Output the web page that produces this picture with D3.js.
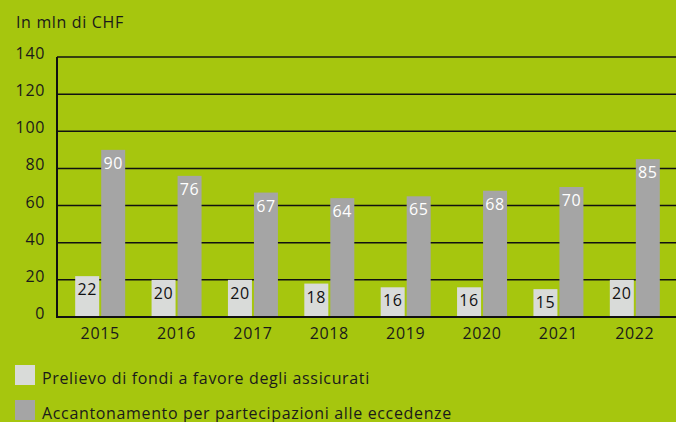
<!DOCTYPE html>
<html lang="it">
<head>
    <meta charset="UTF-8">
    <title>Prelievo e accantonamento</title>
    <script src="https://d3js.org/d3.v7.min.js"></script>
    <style>
        body { margin: 0; background: #a6c60e; }
        svg { display: block; font-family: "Open Sans", "Noto Sans", sans-serif; }
        svg text { font-size: 16px; letter-spacing: 0.65px; }
    </style>
</head>
<body>
    <div id="chart"></div>
    <script>
        // data
        var years = ["2015", "2016", "2017", "2018", "2019", "2020", "2021", "2022"];
        var prelievo = [22, 20, 20, 18, 16, 16, 15, 20];
        var accantonamento = [90, 76, 67, 64, 65, 68, 70, 85];
        var yTicks = [0, 20, 40, 60, 80, 100, 120, 140];
        var seriesNames = ["Prelievo di fondi a favore degli assicurati",
                           "Accantonamento per partecipazioni alle eccedenze"];

        var width = 676, height = 422;
        var lightCol = "#d9dbd9", darkCol = "#a5a5a5";

        var svg = d3.select("#chart").append("svg")
            .attr("width", width)
            .attr("height", height);

        var x = d3.scaleBand().domain(years).range([62, 673]);
        var y = d3.scaleLinear().domain([0, 140]).range([317, 57]);

        svg.append("text")
            .attr("x", 16).attr("y", 28)
            .attr("fill", "#1a1a1a")
            .text("In mln di CHF");

        // gridlines
        svg.selectAll(".grid")
            .data(yTicks.filter(d => d > 0))
            .enter().append("line")
            .attr("x1", 57).attr("x2", width)
            .attr("y1", d => y(d)).attr("y2", d => y(d))
            .attr("stroke", "#111").attr("stroke-width", 1.5);

        // y labels
        svg.selectAll(".ylab")
            .data(yTicks)
            .enter().append("text")
            .attr("x", 45).attr("y", d => y(d) + 2)
            .attr("text-anchor", "end")
            .attr("fill", "#1a1a1a")
            .text(d => d);

        var bw = 24, gap = 2;

        var groups = svg.selectAll(".year")
            .data(years)
            .enter().append("g")
            .attr("transform", d => "translate(" + (x(d) + x.bandwidth() / 2) + ",0)");

        groups.append("rect")
            .attr("x", -bw - gap / 2)
            .attr("width", bw)
            .attr("y", (d, i) => y(prelievo[i]))
            .attr("height", (d, i) => y(0) - y(prelievo[i]))
            .attr("fill", lightCol);

        groups.append("rect")
            .attr("x", gap / 2)
            .attr("width", bw)
            .attr("y", (d, i) => y(accantonamento[i]))
            .attr("height", (d, i) => y(0) - y(accantonamento[i]))
            .attr("fill", darkCol);

        groups.append("text")
            .attr("x", -bw / 2 - gap / 2)
            .attr("y", (d, i) => y(prelievo[i]) + 19)
            .attr("text-anchor", "middle")
            .attr("fill", "#111")
            .text((d, i) => prelievo[i]);

        groups.append("text")
            .attr("x", bw / 2 + gap / 2)
            .attr("y", (d, i) => y(accantonamento[i]) + 19)
            .attr("text-anchor", "middle")
            .attr("fill", "#fff")
            .text((d, i) => accantonamento[i]);

        groups.append("text")
            .attr("x", 0)
            .attr("y", 339)
            .attr("text-anchor", "middle")
            .attr("fill", "#1a1a1a")
            .text(d => d);

        // axes lines
        svg.append("line")
            .attr("x1", 57).attr("x2", 57).attr("y1", y(140)).attr("y2", y(0) + 1)
            .attr("stroke", "#111").attr("stroke-width", 2);
        svg.append("line")
            .attr("x1", 56).attr("x2", width).attr("y1", y(0)).attr("y2", y(0))
            .attr("stroke", "#111").attr("stroke-width", 2);

        // legend
        var legend = svg.selectAll(".leg")
            .data(seriesNames)
            .enter().append("g")
            .attr("transform", (d, i) => "translate(15," + (365 + i * 35) + ")");
        legend.append("rect")
            .attr("width", 20).attr("height", 20)
            .attr("fill", (d, i) => i === 0 ? lightCol : darkCol);
        legend.append("text")
            .attr("x", 27).attr("y", 19)
            .attr("fill", "#1a1a1a")
            .text(d => d);
    </script>
</body>
</html>
